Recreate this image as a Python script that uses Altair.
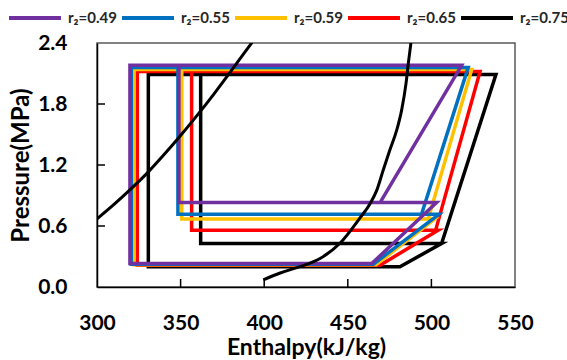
import altair as alt
import pandas as pd

# ---- data ----
series = ["r₂=0.49", "r₂=0.55", "r₂=0.59", "r₂=0.65", "r₂=0.75"]
colors = ["#7030A0", "#0070C0", "#FFC000", "#FF0000", "#000000"]

p_high = [2.18, 2.16, 2.14, 2.12, 2.09]
p_mid = [0.83, 0.715, 0.67, 0.557, 0.427]
p_low = [0.23, 0.225, 0.22, 0.215, 0.20]
h_valve_low = [319.7, 320.5, 322.1, 324.1, 330.7]
h_valve_mid = [349.0, 348.4, 350.7, 356.6, 362.0]
h_evap_out = [464.3, 465.3, 466.9, 469.3, 481.2]
h_lp_out = [503.1, 504.5, 502.0, 504.0, 506.1]
h_hp_in = [469.3, 494.1, 498.1, 502.5, 506.1]
h_hp_out = [518.1, 522.0, 524.1, 529.1, 538.6]

liq_h = [300, 310, 320, 330, 340, 350, 360, 370, 380, 392, 396]
liq_p = [0.67, 0.81, 0.96, 1.12, 1.30, 1.49, 1.69, 1.90, 2.12, 2.39, 2.48]
vap_h = [399.5, 410, 421.4, 433.4, 445.3, 457.3, 463.3, 467.3, 471.2, 475.2, 479.2, 482.2, 484.8, 486.2, 487.8, 488.4]
vap_p = [0.07, 0.14, 0.20, 0.28, 0.43, 0.68, 0.82, 0.95, 1.15, 1.35, 1.54, 1.74, 2.00, 2.20, 2.41, 2.50]

x_values = [300, 350, 400, 450, 500, 550]
y_values = [0.0, 0.6, 1.2, 1.8, 2.4]
x_ticks = [350, 400, 450, 500]
y_ticks = [0.6, 1.2, 1.8]

# ---- build tables ----
rows = []
for i, s in enumerate(series):
    path = [
        (h_valve_mid[i], p_high[i]),
        (h_valve_mid[i], p_mid[i]),
        (h_lp_out[i], p_mid[i]),
        (h_evap_out[i], p_low[i]),
        (h_valve_low[i], p_low[i]),
        (h_valve_low[i], p_high[i]),
        (h_hp_out[i], p_high[i]),
        (h_hp_in[i], p_mid[i]),
    ]
    for k, (h, p) in enumerate(path):
        rows.append({"series": s, "idx": k, "h": h, "p": p})
cycles = pd.DataFrame(rows)

sat_rows = []
for k, (h, p) in enumerate(zip(liq_h, liq_p)):
    sat_rows.append({"curve": "liquid", "idx": k, "h": h, "p": p})
for k, (h, p) in enumerate(zip(vap_h, vap_p)):
    sat_rows.append({"curve": "vapor", "idx": k, "h": h, "p": p})
sat = pd.DataFrame(sat_rows)

W, H = 418, 244
FONT = "Lato"

xscale = alt.Scale(domain=[300, 550], nice=False, zero=False)
yscale = alt.Scale(domain=[0, 2.4], nice=False)

xaxis = alt.Axis(values=x_values, format="d", ticks=False, grid=False,
                 labelFont=FONT, labelFontWeight="bold", labelFontSize=21,
                 labelColor="black", labelPadding=25, labelFlush=False,
                 domainColor="black", domainWidth=1.5,
                 title="Enthalpy(kJ/kg)", titleFont=FONT, titleFontSize=23,
                 titleFontWeight="bold", titleColor="black",
                 titleY=67, titleBaseline="alphabetic")
yaxis = alt.Axis(values=y_values, format=".1f", ticks=False, grid=False,
                 labelFont=FONT, labelFontWeight="bold", labelFontSize=21,
                 labelColor="black", labelPadding=30, labelFlush=False,
                 domainColor="black", domainWidth=1.5,
                 title="Pressure(MPa)", titleFont=FONT, titleFontSize=24,
                 titleFontWeight="bold", titleColor="black",
                 titleX=-76, titleBaseline="middle")

X = alt.X("h:Q", scale=xscale, axis=xaxis)
Y = alt.Y("p:Q", scale=yscale, axis=yaxis)

legend = alt.Legend(orient="none", legendX=-90, legendY=-53, direction="horizontal",
                    columns=5, title=None, symbolType="stroke", symbolSize=2700,
                    symbolStrokeWidth=4, labelFont=FONT, labelFontSize=15,
                    labelFontWeight="bold", labelColor="#262626", labelOffset=5,
                    columnPadding=-3, padding=0)
color = alt.Color("series:N", scale=alt.Scale(domain=series, range=colors), legend=legend)

layers = []
for s in reversed(series):
    layers.append(
        alt.Chart(cycles)
        .transform_filter(alt.datum.series == s)
        .mark_line(strokeWidth=3.5, clip=True)
        .encode(x=X, y=Y, color=color, order="idx:Q")
    )

curves = alt.Chart(sat).mark_line(color="black", strokeWidth=3, interpolate="monotone", clip=True).encode(
    x=X, y=Y, detail="curve:N", order="idx:Q"
)

xt = alt.Chart(pd.DataFrame({"h": x_ticks})).mark_rule(color="black", strokeWidth=1.5).encode(
    x=X, y=alt.value(H), y2=alt.value(H - 8)
)
yt = alt.Chart(pd.DataFrame({"p": y_ticks})).mark_rule(color="black", strokeWidth=1.5).encode(
    y=Y, x=alt.value(0), x2=alt.value(8)
)

chart = alt.layer(*layers, curves, xt, yt).properties(
    width=W, height=H,
    autosize=alt.AutoSizeParams(type="none"),
    padding={"left": 97, "top": 43, "right": 52, "bottom": 73},
).configure_view(stroke="#595959", strokeWidth=1.5)

chart.save("out.html", embed_options={"renderer": "svg", "actions": False})
